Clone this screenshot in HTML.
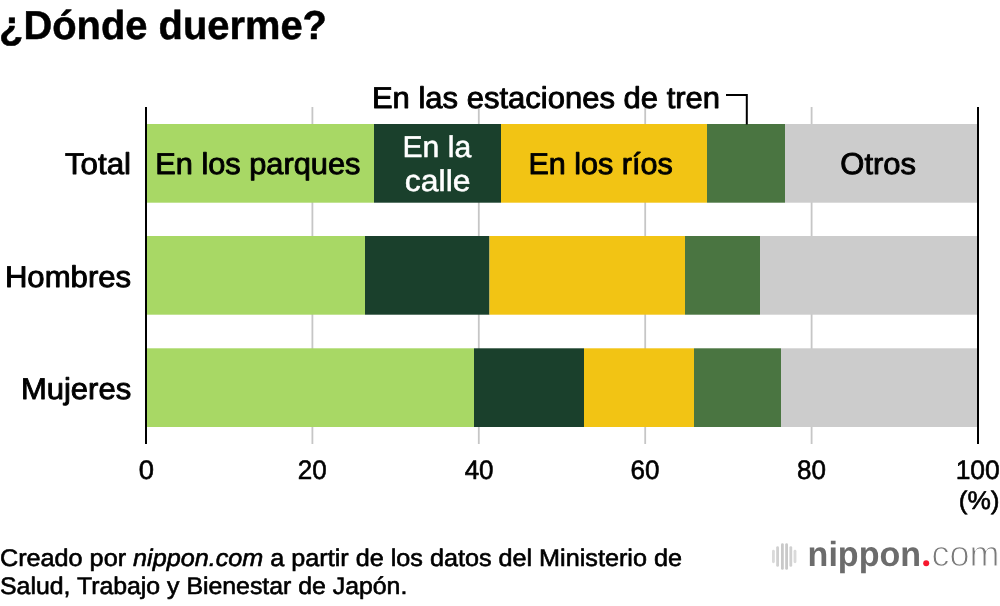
<!DOCTYPE html>
<html lang="es">
<head>
<meta charset="utf-8">
<title>¿Dónde duerme?</title>
<style>
  html, body { margin: 0; padding: 0; background: #ffffff; }
  body { width: 1000px; height: 606px; overflow: hidden; position: relative; }
  svg { position: absolute; left: 0; top: 0; display: block; }
  text { font-family: "Liberation Sans", sans-serif; fill: #000; text-rendering: geometricPrecision; }
</style>
</head>
<body>
<svg width="1000" height="606" viewBox="0 0 1000 606">
  <rect x="0" y="0" width="1000" height="606" fill="#ffffff"/>

  <!-- gridlines -->
  <g stroke="#c6c6c6" stroke-width="1.8">
    <line x1="312.4" y1="107" x2="312.4" y2="444"/>
    <line x1="478.8" y1="107" x2="478.8" y2="444"/>
    <line x1="645.2" y1="107" x2="645.2" y2="444"/>
    <line x1="811.6" y1="107" x2="811.6" y2="444"/>
  </g>

  <!-- bars: Total -->
  <g>
    <rect x="146" y="124" width="228" height="78.7" fill="#a8d865"/>
    <rect x="374" y="124" width="127" height="78.7" fill="#1a402c"/>
    <rect x="501" y="124" width="206" height="78.7" fill="#f2c414"/>
    <rect x="707" y="124" width="78"  height="78.7" fill="#4a7541"/>
    <rect x="785" y="124" width="193" height="78.7" fill="#cccccc"/>
  </g>
  <!-- bars: Hombres -->
  <g>
    <rect x="146"   y="236" width="219"   height="78.7" fill="#a8d865"/>
    <rect x="365"   y="236" width="124.5" height="78.7" fill="#1a402c"/>
    <rect x="489.5" y="236" width="195.5" height="78.7" fill="#f2c414"/>
    <rect x="685"   y="236" width="75"    height="78.7" fill="#4a7541"/>
    <rect x="760"   y="236" width="218"   height="78.7" fill="#cccccc"/>
  </g>
  <!-- bars: Mujeres -->
  <g>
    <rect x="146" y="348.3" width="328" height="78.7" fill="#a8d865"/>
    <rect x="474" y="348.3" width="110" height="78.7" fill="#1a402c"/>
    <rect x="584" y="348.3" width="110" height="78.7" fill="#f2c414"/>
    <rect x="694" y="348.3" width="87"  height="78.7" fill="#4a7541"/>
    <rect x="781" y="348.3" width="197" height="78.7" fill="#cccccc"/>
  </g>

  <!-- axes -->
  <g stroke="#000000" stroke-width="2">
    <line x1="146" y1="107" x2="146" y2="444"/>
    <line x1="978" y1="107" x2="978" y2="444"/>
  </g>

  <!-- leader line -->
  <polyline points="726,95 746.8,95 746.8,124.5" fill="none" stroke="#000000" stroke-width="2"/>

  <!-- texts -->
  <text transform="translate(-0.95,39.0) scale(0.9895,1)" style="font-size:40.3px;fill:#000;stroke:#000;stroke-width:0.5px;stroke-linejoin:round;font-weight:bold">¿Dónde duerme?</text>
  <text transform="translate(64.93,174.4) scale(1.0431,1)" style="font-size:30.0px;fill:#000;stroke:#000;stroke-width:0.9px;stroke-linejoin:round">Total</text>
  <text transform="translate(4.89,287.0) scale(1.0374,1)" style="font-size:30.0px;fill:#000;stroke:#000;stroke-width:0.9px;stroke-linejoin:round">Hombres</text>
  <text transform="translate(20.90,399.2) scale(1.0332,1)" style="font-size:30.0px;fill:#000;stroke:#000;stroke-width:0.9px;stroke-linejoin:round">Mujeres</text>
  <text transform="translate(371.90,107.6) scale(1.0336,1)" style="font-size:30.0px;fill:#000;stroke:#000;stroke-width:0.9px;stroke-linejoin:round">En las estaciones de tren</text>
  <text transform="translate(155.21,173.6) scale(1.0254,1)" style="font-size:30.0px;fill:#000;stroke:#000;stroke-width:0.9px;stroke-linejoin:round">En los parques</text>
  <text transform="translate(402.48,157.1) scale(1.0045,1)" style="font-size:30.0px;fill:#fff;stroke:#fff;stroke-width:0.5px;stroke-linejoin:round">En la</text>
  <text transform="translate(404.75,191.2) scale(1.0659,1)" style="font-size:30.0px;fill:#fff;stroke:#fff;stroke-width:0.5px;stroke-linejoin:round">calle</text>
  <text transform="translate(528.43,173.75) scale(1.0184,1)" style="font-size:30.0px;fill:#000;stroke:#000;stroke-width:0.9px;stroke-linejoin:round">En los ríos</text>
  <text transform="translate(840.34,173.85) scale(1.0322,1)" style="font-size:30.0px;fill:#000;stroke:#000;stroke-width:0.9px;stroke-linejoin:round">Otros</text>
  <text transform="translate(138.82,479.3) scale(1.0210,1)" style="font-size:26.8px;fill:#000;stroke:#000;stroke-width:0.6px;stroke-linejoin:round">0</text>
  <text transform="translate(297.81,479.3) scale(0.9710,1)" style="font-size:26.8px;fill:#000;stroke:#000;stroke-width:0.6px;stroke-linejoin:round">20</text>
  <text transform="translate(464.64,479.3) scale(0.9710,1)" style="font-size:26.8px;fill:#000;stroke:#000;stroke-width:0.6px;stroke-linejoin:round">40</text>
  <text transform="translate(630.59,479.3) scale(0.9710,1)" style="font-size:26.8px;fill:#000;stroke:#000;stroke-width:0.6px;stroke-linejoin:round">60</text>
  <text transform="translate(797.10,479.3) scale(0.9710,1)" style="font-size:26.8px;fill:#000;stroke:#000;stroke-width:0.6px;stroke-linejoin:round">80</text>
  <text transform="translate(955.67,479.3) scale(0.9866,1)" style="font-size:26.8px;fill:#000;stroke:#000;stroke-width:0.6px;stroke-linejoin:round">100</text>
  <text transform="translate(958.71,509.0) scale(1.0271,1)" style="font-size:25.6px;fill:#000;stroke:#000;stroke-width:0.6px;stroke-linejoin:round">(%)</text>
  <text transform="translate(-0.00,566.0) scale(1.0496,1)" style="font-size:24.0px;fill:#000;stroke:#000;stroke-width:0.6px;stroke-linejoin:round">Creado por <tspan font-style="italic">nippon.com</tspan> a partir de los datos del Ministerio de</text>
  <text transform="translate(0.01,594.0) scale(1.0349,1)" style="font-size:24.0px;fill:#000;stroke:#000;stroke-width:0.6px;stroke-linejoin:round">Salud, Trabajo y Bienestar de Japón.</text>
  <!-- logo -->
  <g>
    <rect x="772.0" y="549.8" width="2.8" height="13.4" rx="1.4" fill="#dadada"/>
    <rect x="776.2" y="546.2" width="2.8" height="20.6" rx="1.4" fill="#d0d0d0"/>
    <rect x="781.0" y="543.2" width="2.8" height="26.6" rx="1.4" fill="#c9c9c9"/>
    <rect x="785.2" y="543.2" width="2.8" height="26.6" rx="1.4" fill="#c9c9c9"/>
    <rect x="789.4" y="546.2" width="2.8" height="20.6" rx="1.4" fill="#d0d0d0"/>
    <rect x="793.6" y="549.8" width="2.8" height="13.4" rx="1.4" fill="#dadada"/>
    <text x="807.6" y="565.6" style="font-weight:bold;font-size:35px;fill:#6c6c6c" textLength="113.4" lengthAdjust="spacingAndGlyphs">nippon</text>
    <circle cx="926.2" cy="563.3" r="3" fill="#f7182e"/>
    <text x="931.5" y="565.5" style="font-size:36px;fill:#7a7a7a;stroke:#ffffff;stroke-width:1.1px" textLength="68" lengthAdjust="spacingAndGlyphs">com</text>
  </g>
</svg>
</body>
</html>
